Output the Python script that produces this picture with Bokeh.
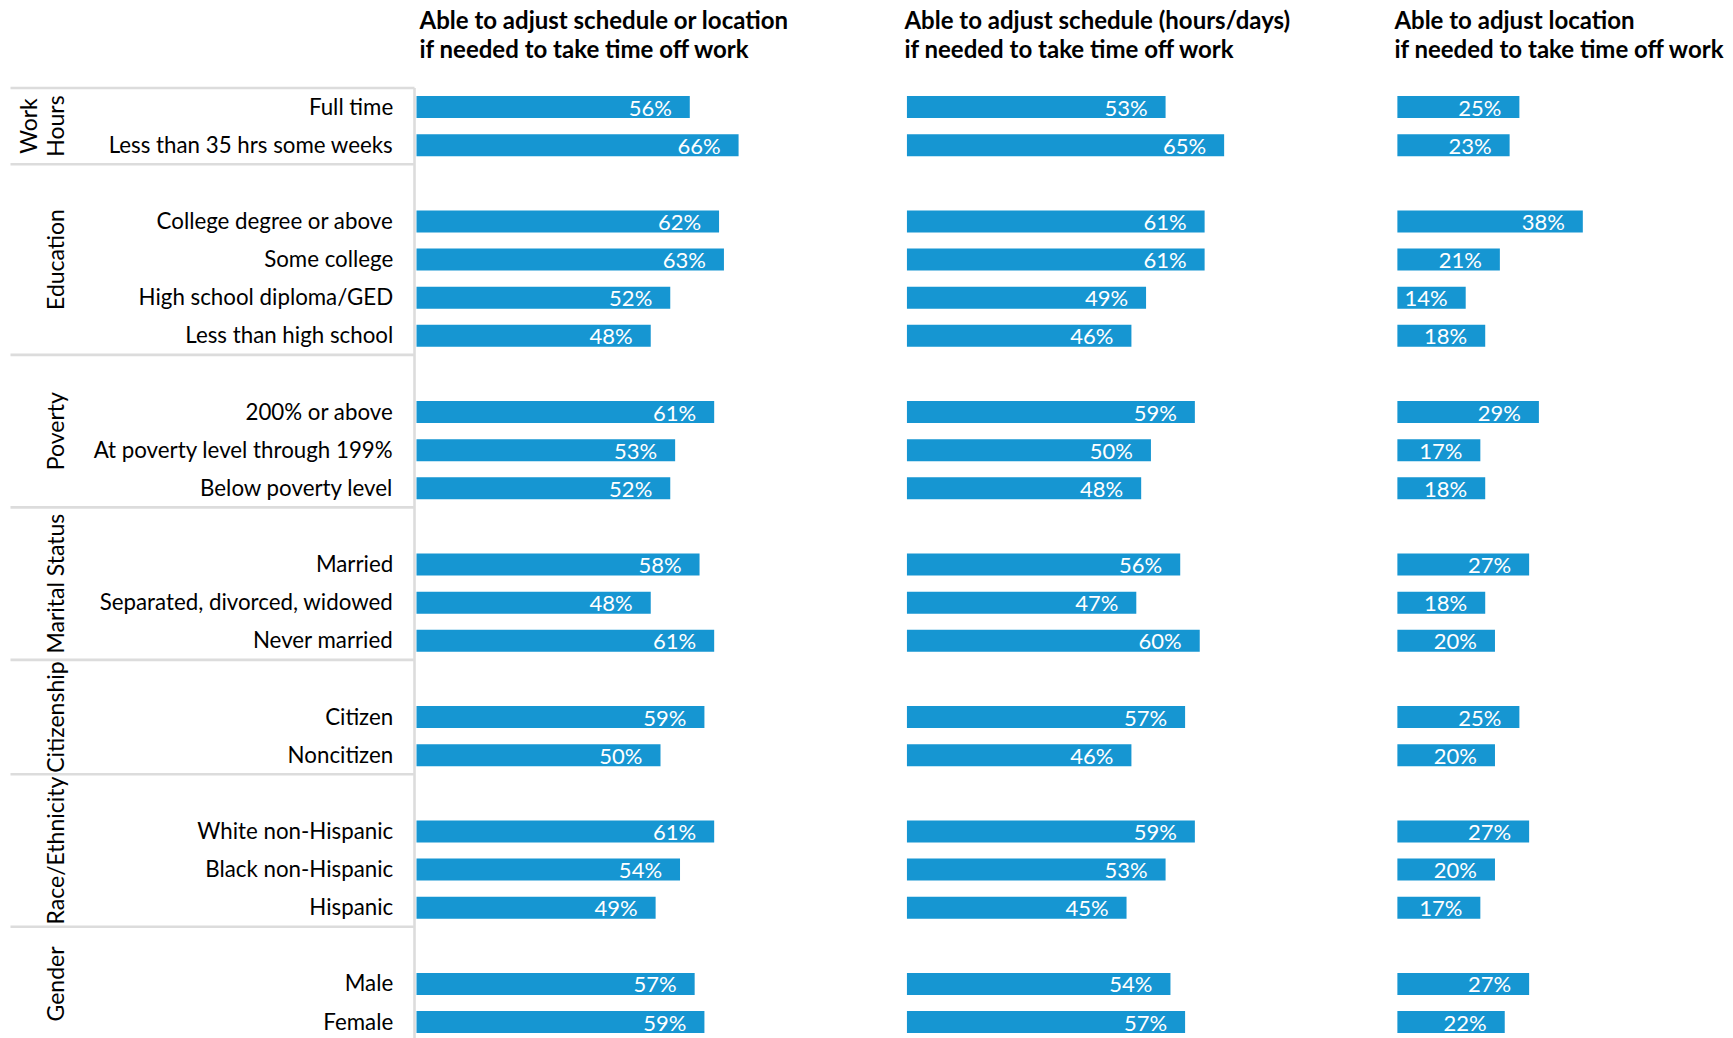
from bokeh.plotting import figure
from bokeh.models import Range1d, ColumnDataSource
from bokeh.core.properties import value
from bokeh.embed import file_html
from bokeh.resources import INLINE

# ---------------- data ----------------
GROUPS = ["Work Hours", "Education", "Poverty", "Marital Status",
          "Citizenship", "Race/Ethnicity", "Gender"]
GROUP_LABEL_LINES = [["Work", "Hours"], ["Education"], ["Poverty"], ["Marital Status"],
                     ["Citizenship"], ["Race/Ethnicity"], ["Gender"]]
CATEGORIES = [
    ["Full time", "Less than 35 hrs some weeks"],
    ["College degree or above", "Some college", "High school diploma/GED", "Less than high school"],
    ["200% or above", "At poverty level through 199%", "Below poverty level"],
    ["Married", "Separated, divorced, widowed", "Never married"],
    ["Citizen", "Noncitizen"],
    ["White non-Hispanic", "Black non-Hispanic", "Hispanic"],
    ["Male", "Female"],
]
SCHEDULE_OR_LOCATION = [56, 66, 62, 63, 52, 48, 61, 53, 52, 58, 48, 61, 59, 50, 61, 54, 49, 57, 59]
SCHEDULE = [53, 65, 61, 61, 49, 46, 59, 50, 48, 56, 47, 60, 57, 46, 59, 53, 45, 54, 57]
LOCATION = [25, 23, 38, 21, 14, 18, 29, 17, 18, 27, 18, 20, 25, 20, 27, 20, 17, 27, 22]
SERIES = [SCHEDULE_OR_LOCATION, SCHEDULE, LOCATION]
TITLE_LINE1 = ["Able to adjust schedule or location",
               "Able to adjust schedule (hours/days)",
               "Able to adjust location"]
TITLE_LINE2 = ["if needed to take time off work",
               " if needed to take time off work",
               "if needed to take time off work"]

# ---------------- layout constants ----------------
W, H = 1733, 1038
PX_PER_UNIT = 4.88          # pixels per percentage point
ZERO_PX = 416               # pixel x of first panel's zero
PANEL_STEP = 100.5          # panel spacing in percentage-point units
ROW_PX = 38.13
ROW0_PX = 106.5
BAR_COLOR = "#1696d2"
LINE_COLOR = "#dcdcdc"
FONT = "Lato"


def ux(px):
    return (px - ZERO_PX) / PX_PER_UNIT


def ry(py):
    return (py - ROW0_PX) / ROW_PX


# rows: blank row before every group except the first
rows, labels, group_rows = [], [], []
r = 0
for gi, cats in enumerate(CATEGORIES):
    if gi > 0:
        r += 1
    start = r
    for c in cats:
        rows.append(r)
        labels.append(c)
        r += 1
    group_rows.append((start - (1 if gi > 0 else 0), r - 1))

p = figure(width=W, height=H, x_range=Range1d(ux(0), ux(W)),
           y_range=Range1d(ry(H), ry(0)), output_backend="svg",
           toolbar_location=None, x_axis_type=None, y_axis_type=None,
           min_border=0)
p.outline_line_color = None
p.grid.visible = False
p.background_fill_color = "white"
p.border_fill_color = "white"

# separators in the label area
sep_y = [-0.5] + [g[1] + 0.5 for g in group_rows]
p.segment(x0=[ux(10)] * len(sep_y), x1=[ux(414)] * len(sep_y), y0=sep_y, y1=sep_y,
          line_color=LINE_COLOR, line_width=2.6)
p.segment(x0=[ux(414)], x1=[ux(414)], y0=[-0.5], y1=[group_rows[-1][1] + 0.5],
          line_color=LINE_COLOR, line_width=2.6)

# row labels
p.text(x=[0] * len(rows), y=rows, text=labels, x_offset=-23.3, y_offset=-1,
       text_align="right", text_baseline="middle", text_color="#000000",
       text_font=value(FONT), text_font_size="22.3px")

# group labels (rotated)
for (g0, g1), lines in zip(group_rows, GROUP_LABEL_LINES):
    n = len(lines)
    for i, ln in enumerate(lines):
        mid_px = 54.2 - (n - 1 - i) * 27.0
        p.text(x=[ux(mid_px)], y=[(g0 + g1) / 2], text=[ln], angle=1.5707963,
               text_align="center", text_baseline="middle", text_color="#000000",
               text_font=value(FONT), text_font_size="23px")

# bars and value labels
TITLE_DX = [3, -2.5, -3]
for k, vals in enumerate(SERIES):
    off = k * PANEL_STEP
    src = ColumnDataSource(dict(
        y=rows, left=[off] * len(vals), right=[off + v for v in vals],
        lab=[f"{v}%" for v in vals]))
    p.hbar(y="y", left="left", right="right", height=0.577, source=src,
           fill_color=BAR_COLOR, line_color=None)
    p.text(x="right", y="y", text="lab", source=src, x_offset=-18,
           text_align="right", text_baseline="middle", text_color="white",
           text_font=value(FONT), text_font_size="22px")
    p.text(x=[off], y=[ry(19.0)], text=[TITLE_LINE1[k]], x_offset=TITLE_DX[k],
           text_align="left", text_baseline="middle", text_color="#000000",
           text_font=value(FONT), text_font_style="bold", text_font_size="24px")
    p.text(x=[off], y=[ry(48.0)], text=[TITLE_LINE2[k]], x_offset=TITLE_DX[k],
           text_align="left", text_baseline="middle", text_color="#000000",
           text_font=value(FONT), text_font_style="bold", text_font_size="24px")

open("out.html", "w").write(file_html(p, INLINE))
